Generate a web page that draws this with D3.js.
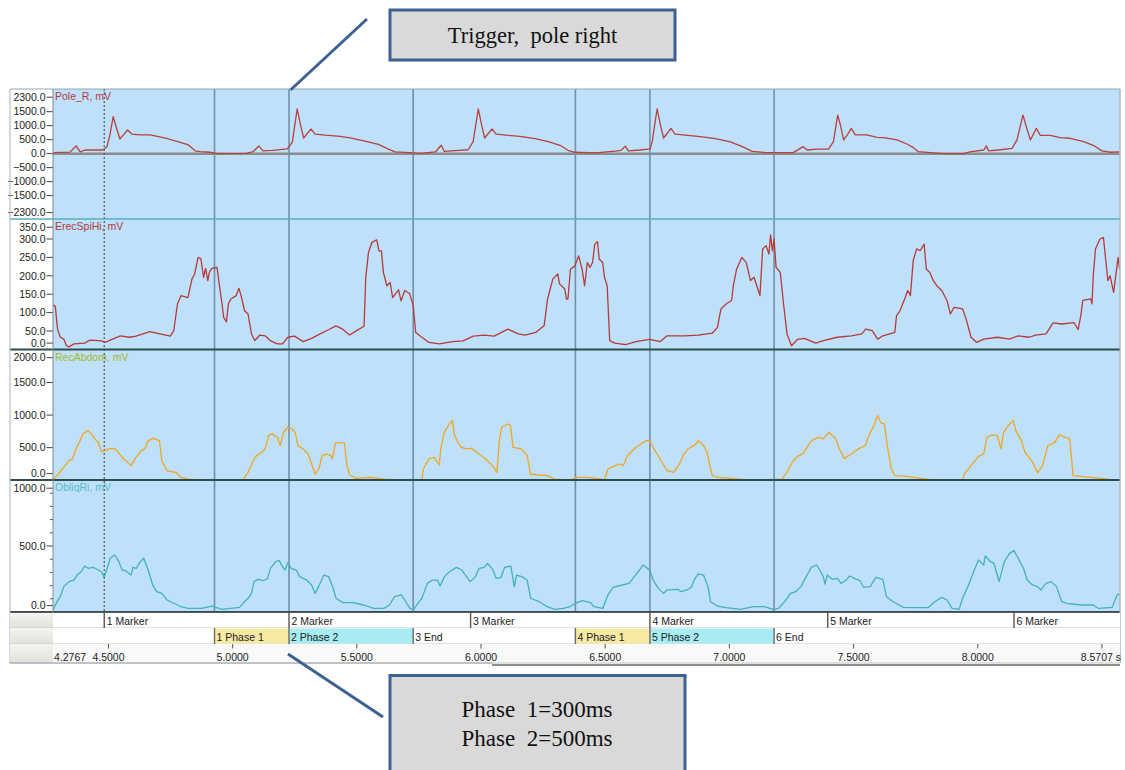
<!DOCTYPE html>
<html>
<head>
<meta charset="utf-8">
<script src="https://cdn.jsdelivr.net/npm/d3@7"></script>
<style>
  body { margin: 0; background: #fff; }
  svg text { font-family: "Liberation Sans", Arial, sans-serif; }
  .serif { font-family: "Liberation Serif", "Times New Roman", serif; }
</style>
</head>
<body>
<svg id="chart" width="1125" height="770"></svg>
<script>
// ---- Recording window (seconds) ----
const tStart = 4.2767;
const tEnd = 8.5707;

// ---- Channel names ----
const channelNames = ["Pole_R, mV", "ErecSpiHi, mV", "RecAbdom, mV", "ObliqRi, mV"];

// ---- Y tick labels per channel ----
const poleTicks = [2300, 1500, 1000, 500, 0, -500, -1000, -1500, -2300];
const erecTicks = [350, 300, 250, 200, 150, 100, 50, 0];
const recTicks = [2000, 1500, 1000, 500, 0];
const obliqTicks = [1000, 500, 0];
const obliqMinorTicks = [100, 200, 300, 400, 600, 700, 800, 900];

// ---- Time axis ----
const timeTicks = [4.5, 5.0, 5.5, 6.0, 6.5, 7.0, 7.5, 8.0, 8.5];
const timeTickLabels = ["4.5000", "5.0000", "5.5000", "6.0000", "6.5000", "7.0000", "7.5000", "8.0000", ""];
const timeStartLabel = "4.2767";
const timeEndLabel = "8.5707 s";

// ---- Event rows ----
const cursorTime = 4.483;
const markerTimes = [4.483, 5.227, 5.958, 6.680, 7.396, 8.146];
const markerLabels = ["1 Marker", "2 Marker", "3 Marker", "4 Marker", "5 Marker", "6 Marker"];
const phaseTimes = [4.927, 5.227, 5.727, 6.380, 6.680, 7.180];
const phaseLabels = ["1 Phase 1", "2 Phase 2", "3 End", "4 Phase 1", "5 Phase 2", "6 End"];
const phaseKinds = ["p1", "p2", "end", "p1", "p2", "end"];

// ---- Signals: [time s, value mV] ----
const poleR = [
[4.277,40],[4.305,45],[4.345,55],[4.370,275],[4.386,60],[4.406,130],[4.466,130],[4.478,130],[4.494,250],[4.506,670],
[4.519,1320],[4.533,900],[4.546,525],[4.562,690],[4.577,845],[4.594,700],[4.627,670],[4.667,670],[4.707,600],[4.734,550],
[4.789,405],[4.822,310],[4.849,100],[4.869,70],[4.909,50],[4.937,0],[5.058,10],[5.082,70],[5.106,275],[5.122,100],
[5.162,120],[5.220,170],[5.240,400],[5.260,1600],[5.274,1000],[5.286,560],[5.300,720],[5.316,880],[5.332,700],[5.372,660],
[5.433,620],[5.473,560],[5.533,450],[5.587,330],[5.627,160],[5.654,60],[5.714,40],[5.754,10],[5.816,60],[5.840,300],
[5.852,80],[5.896,110],[5.948,140],[5.968,420],[5.989,1600],[6.003,1000],[6.015,560],[6.029,720],[6.045,880],[6.061,700],
[6.101,660],[6.157,620],[6.218,540],[6.271,430],[6.318,300],[6.350,120],[6.378,50],[6.460,30],[6.540,90],[6.564,120],
[6.581,270],[6.593,100],[6.641,130],[6.681,170],[6.689,420],[6.709,1600],[6.723,1000],[6.735,560],[6.749,720],[6.765,900],
[6.781,700],[6.823,660],[6.883,610],[6.943,540],[7.004,420],[7.052,250],[7.092,80],[7.144,40],[7.185,35],[7.257,35],
[7.297,250],[7.313,130],[7.353,160],[7.399,160],[7.419,430],[7.436,1380],[7.447,1025],[7.460,490],[7.476,690],[7.491,905],
[7.507,670],[7.553,670],[7.595,585],[7.621,570],[7.675,490],[7.715,345],[7.741,215],[7.761,70],[7.809,35],[7.862,0],
[7.942,0],[7.969,60],[8.024,130],[8.035,275],[8.043,100],[8.083,130],[8.138,190],[8.158,490],[8.182,1380],[8.196,950],
[8.212,490],[8.236,905],[8.252,650],[8.292,650],[8.332,570],[8.372,550],[8.427,430],[8.467,290],[8.500,100],[8.533,50],
[8.571,60]
];

const erecSpiHi = [
[4.277,121],[4.286,117],[4.295,55],[4.306,33],[4.320,28],[4.331,10],[4.341,7],[4.361,15],[4.404,17],[4.424,25],
[4.472,23],[4.486,19],[4.514,27],[4.548,37],[4.584,33],[4.611,36],[4.667,48],[4.707,42],[4.749,36],[4.763,51],
[4.778,124],[4.792,146],[4.820,141],[4.826,160],[4.836,191],[4.847,205],[4.861,250],[4.872,247],[4.883,196],[4.891,220],
[4.900,187],[4.906,209],[4.916,220],[4.937,223],[4.946,178],[4.957,124],[4.964,87],[4.975,75],[4.983,124],[4.993,137],
[5.014,146],[5.025,166],[5.034,146],[5.048,105],[5.062,96],[5.076,42],[5.089,24],[5.110,39],[5.131,37],[5.151,24],
[5.180,15],[5.201,15],[5.222,33],[5.249,36],[5.284,21],[5.318,30],[5.352,42],[5.388,54],[5.416,64],[5.443,55],
[5.471,39],[5.499,51],[5.529,63],[5.536,196],[5.547,264],[5.561,291],[5.580,298],[5.589,268],[5.599,268],[5.607,209],
[5.621,173],[5.634,182],[5.644,141],[5.668,162],[5.678,132],[5.693,160],[5.713,151],[5.727,119],[5.737,46],[5.754,37],
[5.790,19],[5.832,15],[5.886,21],[5.928,23],[5.969,36],[6.012,39],[6.053,36],[6.108,55],[6.150,42],[6.177,39],
[6.220,46],[6.254,64],[6.268,137],[6.289,191],[6.309,205],[6.316,178],[6.337,164],[6.344,137],[6.350,137],[6.360,218],
[6.378,227],[6.393,254],[6.407,218],[6.417,173],[6.428,236],[6.439,223],[6.449,236],[6.458,286],[6.469,293],[6.476,245],
[6.490,236],[6.497,196],[6.508,173],[6.518,24],[6.539,17],[6.582,13],[6.624,21],[6.679,27],[6.721,21],[6.749,37],
[6.820,37],[6.875,39],[6.931,44],[6.952,60],[6.966,110],[6.988,124],[7.009,133],[7.016,173],[7.029,218],[7.050,250],
[7.068,236],[7.085,187],[7.099,196],[7.106,182],[7.123,146],[7.134,273],[7.148,282],[7.159,259],[7.166,311],[7.173,268],
[7.180,300],[7.188,223],[7.205,209],[7.218,124],[7.232,42],[7.250,10],[7.274,27],[7.302,30],[7.348,17],[7.378,24],
[7.435,33],[7.491,37],[7.533,42],[7.549,55],[7.575,51],[7.597,28],[7.618,37],[7.666,46],[7.673,92],[7.687,105],
[7.708,141],[7.718,160],[7.729,146],[7.740,241],[7.754,273],[7.768,268],[7.784,286],[7.793,218],[7.807,209],[7.821,187],
[7.835,173],[7.855,160],[7.876,133],[7.890,96],[7.904,114],[7.939,110],[7.953,83],[7.973,33],[7.996,19],[8.024,28],
[8.079,33],[8.128,28],[8.163,37],[8.206,33],[8.233,39],[8.275,42],[8.303,72],[8.338,69],[8.387,73],[8.404,54],
[8.415,92],[8.423,133],[8.455,137],[8.460,124],[8.465,200],[8.474,273],[8.492,300],[8.506,304],[8.515,245],[8.524,187],
[8.533,200],[8.547,155],[8.565,250],[8.571,218]
];

const recAbdom = [
[4.277,10],[4.299,95],[4.320,198],[4.341,300],[4.355,326],[4.369,480],[4.383,582],[4.397,711],[4.418,762],[4.431,711],
[4.445,634],[4.459,582],[4.472,439],[4.486,454],[4.507,490],[4.528,480],[4.555,352],[4.591,224],[4.611,352],[4.632,454],
[4.646,480],[4.660,608],[4.681,644],[4.705,608],[4.715,300],[4.735,147],[4.771,121],[4.792,44],[4.820,18],[4.861,8],
[4.929,3],[5.041,5],[5.062,121],[5.083,300],[5.096,377],[5.117,429],[5.131,480],[5.145,684],[5.158,711],[5.180,659],
[5.192,531],[5.205,736],[5.222,813],[5.236,797],[5.252,736],[5.263,531],[5.284,480],[5.304,403],[5.332,95],[5.348,182],
[5.360,377],[5.381,403],[5.395,377],[5.402,326],[5.413,572],[5.450,572],[5.460,224],[5.471,80],[5.499,29],[5.553,44],
[5.610,18],[5.651,8],[5.762,3],[5.768,172],[5.790,326],[5.811,352],[5.832,234],[5.838,480],[5.852,736],[5.873,864],
[5.884,916],[5.894,685],[5.907,582],[5.921,505],[5.942,480],[5.962,490],[5.991,403],[6.019,326],[6.046,224],[6.064,121],
[6.074,608],[6.083,813],[6.108,864],[6.119,839],[6.129,505],[6.163,480],[6.186,377],[6.199,95],[6.234,80],[6.268,70],
[6.296,18],[6.358,3],[6.387,44],[6.428,44],[6.480,20],[6.497,3],[6.511,172],[6.539,224],[6.560,249],[6.573,224],
[6.589,377],[6.624,505],[6.644,557],[6.665,608],[6.679,608],[6.693,505],[6.721,326],[6.749,147],[6.776,121],[6.799,249],
[6.813,377],[6.833,480],[6.861,541],[6.875,608],[6.896,531],[6.910,429],[6.931,70],[6.959,44],[7.002,29],[7.064,10],
[7.164,3],[7.212,18],[7.232,121],[7.253,275],[7.274,367],[7.295,403],[7.309,480],[7.330,608],[7.358,659],[7.378,634],
[7.401,736],[7.429,634],[7.443,480],[7.463,336],[7.491,403],[7.519,480],[7.547,531],[7.561,684],[7.582,839],[7.597,993],
[7.611,880],[7.624,864],[7.638,480],[7.652,172],[7.666,70],[7.715,60],[7.770,29],[7.813,8],[7.939,5],[7.946,95],
[7.973,224],[8.003,367],[8.024,403],[8.037,659],[8.058,695],[8.079,684],[8.093,480],[8.104,736],[8.121,828],[8.142,916],
[8.156,736],[8.176,608],[8.190,429],[8.220,285],[8.241,111],[8.261,224],[8.282,531],[8.310,582],[8.328,695],[8.352,659],
[8.370,634],[8.384,70],[8.415,60],[8.457,44],[8.499,29],[8.541,5],[8.571,3]
];

const obliqRi = [
[4.277,15],[4.279,28],[4.293,78],[4.306,116],[4.320,192],[4.341,230],[4.361,242],[4.374,280],[4.390,305],[4.404,348],
[4.418,331],[4.438,338],[4.459,318],[4.472,305],[4.482,263],[4.493,318],[4.507,407],[4.525,432],[4.542,381],[4.555,318],
[4.569,313],[4.591,280],[4.598,338],[4.612,331],[4.628,381],[4.642,407],[4.660,318],[4.678,205],[4.694,154],[4.715,141],
[4.736,91],[4.763,66],[4.792,40],[4.820,28],[4.875,28],[4.916,45],[4.944,28],[4.958,20],[5.028,35],[5.041,66],
[5.062,104],[5.076,141],[5.086,230],[5.103,247],[5.124,237],[5.141,255],[5.152,331],[5.174,381],[5.188,389],[5.197,356],
[5.211,318],[5.222,374],[5.236,331],[5.256,318],[5.270,268],[5.298,242],[5.318,205],[5.332,141],[5.346,192],[5.367,280],
[5.386,268],[5.403,192],[5.416,104],[5.444,71],[5.485,71],[5.527,53],[5.568,28],[5.610,28],[5.631,53],[5.652,116],
[5.679,129],[5.693,91],[5.714,28],[5.728,15],[5.741,53],[5.762,104],[5.784,217],[5.804,242],[5.825,242],[5.835,197],
[5.853,268],[5.873,305],[5.901,338],[5.922,318],[5.942,268],[5.956,230],[5.978,268],[5.992,331],[6.013,338],[6.026,369],
[6.047,323],[6.061,255],[6.081,263],[6.095,338],[6.120,348],[6.134,192],[6.143,280],[6.164,268],[6.186,242],[6.200,104],
[6.234,78],[6.262,45],[6.296,20],[6.331,28],[6.358,40],[6.379,66],[6.408,86],[6.441,71],[6.455,40],[6.490,28],
[6.511,129],[6.532,187],[6.553,197],[6.596,217],[6.617,268],[6.638,318],[6.652,356],[6.665,338],[6.679,318],[6.693,242],
[6.714,179],[6.735,141],[6.749,167],[6.792,172],[6.806,154],[6.834,172],[6.847,187],[6.859,247],[6.875,288],[6.896,280],
[6.914,192],[6.924,78],[6.952,45],[6.988,33],[7.043,20],[7.099,40],[7.141,40],[7.175,20],[7.198,28],[7.226,86],
[7.246,141],[7.267,154],[7.288,192],[7.309,268],[7.330,338],[7.351,356],[7.364,318],[7.378,268],[7.385,212],[7.394,280],
[7.415,247],[7.435,255],[7.449,217],[7.470,242],[7.484,273],[7.512,247],[7.526,237],[7.540,187],[7.567,192],[7.590,263],
[7.618,247],[7.632,116],[7.659,78],[7.701,35],[7.743,33],[7.800,33],[7.827,78],[7.855,111],[7.876,91],[7.897,28],
[7.925,20],[7.939,104],[7.960,192],[7.981,293],[8.003,394],[8.024,356],[8.030,424],[8.052,381],[8.065,369],[8.086,230],
[8.107,381],[8.128,444],[8.146,465],[8.163,407],[8.184,331],[8.199,242],[8.220,205],[8.241,192],[8.254,167],[8.275,217],
[8.296,230],[8.317,192],[8.338,78],[8.359,66],[8.415,53],[8.464,53],[8.485,28],[8.541,35],[8.561,129],[8.571,136]
];

// ---------------------------------------------------------------
const svg = d3.select("#chart");
const plotLeft = 53, plotRight = 1119.5, frameLeft = 10, frameRight = 1120;

const x = d3.scaleLinear().domain([tStart, tEnd]).range([plotLeft, plotRight]);

const panels = [
  { name: channelNames[0], data: poleR, domain: [-2300, 2300], range: [218, 89.3], top: 89, bottom: 219,
    ticks: poleTicks, minor: [], stroke: "#b8413a", label: "#b53b3b" },
  { name: channelNames[1], data: erecSpiHi, domain: [0, 350], range: [349.4, 220.6], top: 219, bottom: 349.5,
    ticks: erecTicks, minor: [], stroke: "#b73a36", label: "#b53b3b" },
  { name: channelNames[2], data: recAbdom, domain: [0, 2000], range: [480.2, 350], top: 349.5, bottom: 480,
    ticks: recTicks, minor: [], stroke: "#f2a623", label: "#a9b92a" },
  { name: channelNames[3], data: obliqRi, domain: [0, 1000], range: [612, 480], top: 480, bottom: 612,
    ticks: obliqTicks, minor: obliqMinorTicks, stroke: "#41b4b3", label: "#58bdbd" }
];

const defs = svg.append("defs");
const hdrGrad = defs.append("linearGradient").attr("id", "hdr").attr("x1", 0).attr("y1", 0).attr("x2", 0).attr("y2", 1);
hdrGrad.append("stop").attr("offset", "0%").attr("stop-color", "#f5f4f0");
hdrGrad.append("stop").attr("offset", "100%").attr("stop-color", "#e2e0da");

// Axis column and plot background
svg.append("rect").attr("x", frameLeft).attr("y", 89).attr("width", plotLeft - frameLeft).attr("height", 612 - 89)
  .attr("fill", "#ffffff");
svg.append("rect").attr("x", plotLeft).attr("y", 89).attr("width", plotRight - plotLeft).attr("height", 612 - 89)
  .attr("fill", "#bee0fa");

// Zero line of the pole channel
svg.append("line").attr("x1", plotLeft).attr("x2", plotRight)
  .attr("y1", d3.scaleLinear().domain(panels[0].domain).range(panels[0].range)(0))
  .attr("y2", d3.scaleLinear().domain(panels[0].domain).range(panels[0].range)(0))
  .attr("stroke", "#8c8c8c").attr("stroke-width", 2.5);

// Event lines through all channels
svg.append("g").selectAll("line").data(phaseTimes).join("line")
  .attr("x1", d => x(d)).attr("x2", d => x(d)).attr("y1", 89).attr("y2", 612)
  .attr("stroke", "#7190a8").attr("stroke-width", 1.6);
svg.append("line").attr("x1", x(cursorTime)).attr("x2", x(cursorTime)).attr("y1", 89).attr("y2", 612)
  .attr("stroke", "#555").attr("stroke-width", 1.2).attr("stroke-dasharray", "2,2");

// Channels
panels.forEach((p, i) => {
  const y = d3.scaleLinear().domain(p.domain).range(p.range);
  const clipId = "clip" + i;
  defs.append("clipPath").attr("id", clipId).append("rect")
    .attr("x", plotLeft).attr("y", p.top).attr("width", plotRight - plotLeft).attr("height", p.bottom - p.top);

  const line = d3.line().x(d => x(d[0])).y(d => y(d[1]));
  svg.append("path").datum(p.data).attr("d", line).attr("clip-path", `url(#${clipId})`)
    .attr("fill", "none").attr("stroke", p.stroke).attr("stroke-width", 1.3).attr("stroke-linejoin", "round");

  svg.append("text").attr("x", plotLeft + 2).attr("y", p.top + 11).text(p.name)
    .attr("font-size", 10.5).attr("fill", p.label);

  const tickY = v => Math.max(p.top + 8.2, Math.min(p.bottom - 6.4, y(v)));
  const g = svg.append("g");
  g.selectAll("line.major").data(p.ticks).join("line").attr("class", "major")
    .attr("x1", 46.5).attr("x2", plotLeft).attr("y1", d => tickY(d)).attr("y2", d => tickY(d))
    .attr("stroke", "#444").attr("stroke-width", 1);
  g.selectAll("line.minor").data(p.minor).join("line").attr("class", "minor")
    .attr("x1", 50).attr("x2", plotLeft).attr("y1", d => y(d)).attr("y2", d => y(d))
    .attr("stroke", "#555").attr("stroke-width", 1);
  g.selectAll("text").data(p.ticks).join("text")
    .attr("x", 45.5).attr("y", d => tickY(d)).attr("dy", "0.36em").attr("text-anchor", "end")
    .attr("font-size", 10.5).attr("fill", "#222").text(d => d3.format(".1f")(d));
});

// Frame and channel separators
svg.append("line").attr("x1", frameLeft).attr("x2", frameRight).attr("y1", 89).attr("y2", 89)
  .attr("stroke", "#93a7b6").attr("stroke-width", 1.2);
svg.append("line").attr("x1", frameLeft).attr("x2", frameRight).attr("y1", 219).attr("y2", 219)
  .attr("stroke", "#56afbd").attr("stroke-width", 1.6);
[349.5, 480].forEach(yy => svg.append("line").attr("x1", frameLeft).attr("x2", frameRight)
  .attr("y1", yy).attr("y2", yy).attr("stroke", "#2d4d4d").attr("stroke-width", 1.8));
svg.append("line").attr("x1", frameLeft).attr("x2", frameRight).attr("y1", 612).attr("y2", 612)
  .attr("stroke", "#3e4a4e").attr("stroke-width", 1.8);
svg.append("line").attr("x1", plotLeft).attr("x2", plotLeft).attr("y1", 89).attr("y2", 663)
  .attr("stroke", "#7b8b98").attr("stroke-width", 1);
svg.append("line").attr("x1", frameLeft).attr("x2", frameLeft).attr("y1", 89).attr("y2", 663)
  .attr("stroke", "#a5b4c0").attr("stroke-width", 1);
svg.append("line").attr("x1", frameRight).attr("x2", frameRight).attr("y1", 89).attr("y2", 663)
  .attr("stroke", "#93a7b6").attr("stroke-width", 1.2);

// Event rows and time axis
const rows = [
  { top: 612.9, bottom: 628, fill: "#ffffff" },
  { top: 628, bottom: 644, fill: "#ffffff" },
  { top: 644, bottom: 663, fill: "#f9f9f9" }
];
rows.forEach(r => {
  svg.append("rect").attr("x", frameLeft).attr("y", r.top).attr("width", plotLeft - frameLeft).attr("height", r.bottom - r.top)
    .attr("fill", "url(#hdr)");
  svg.append("rect").attr("x", plotLeft).attr("y", r.top).attr("width", frameRight - plotLeft).attr("height", r.bottom - r.top)
    .attr("fill", r.fill);
  svg.append("line").attr("x1", frameLeft).attr("x2", frameRight).attr("y1", r.bottom).attr("y2", r.bottom)
    .attr("stroke", "#c4c4c4").attr("stroke-width", 1);
});

// Phase cells
const phaseFill = { p1: "#f6eaa2", p2: "#a7ebf3", end: "none" };
const phaseCells = phaseTimes.map((t, i) => ({ t0: t, t1: i < phaseTimes.length - 1 ? phaseTimes[i + 1] : tEnd,
  label: phaseLabels[i], kind: phaseKinds[i] }));
svg.append("g").selectAll("rect").data(phaseCells.filter(c => c.kind !== "end")).join("rect")
  .attr("x", d => x(d.t0)).attr("y", 628.5).attr("width", d => x(d.t1) - x(d.t0)).attr("height", 15)
  .attr("fill", d => phaseFill[d.kind]);
svg.append("g").selectAll("line").data(phaseTimes).join("line")
  .attr("x1", d => x(d)).attr("x2", d => x(d)).attr("y1", 628).attr("y2", 644)
  .attr("stroke", "#6a6a6a").attr("stroke-width", 1.4);
svg.append("g").selectAll("text").data(phaseCells).join("text")
  .attr("x", d => x(d.t0) + 2).attr("y", 640.5).attr("font-size", 10.5).attr("fill", "#222").text(d => d.label);

// Markers
svg.append("g").selectAll("line").data(markerTimes).join("line")
  .attr("x1", d => x(d)).attr("x2", d => x(d)).attr("y1", 612.5).attr("y2", 628)
  .attr("stroke", "#555").attr("stroke-width", 1.4);
svg.append("g").selectAll("text").data(markerTimes).join("text")
  .attr("x", d => x(d) + 2.5).attr("y", 624.5).attr("font-size", 10.5).attr("fill", "#222")
  .text((d, i) => markerLabels[i]);

// Time axis
svg.append("g").selectAll("line").data(timeTicks).join("line")
  .attr("x1", d => x(d)).attr("x2", d => x(d)).attr("y1", 644).attr("y2", 648.5)
  .attr("stroke", "#555").attr("stroke-width", 1);
svg.append("g").selectAll("text").data(timeTicks).join("text")
  .attr("x", d => x(d)).attr("y", 661).attr("text-anchor", "middle").attr("font-size", 10.5).attr("fill", "#222")
  .text((d, i) => timeTickLabels[i]);
svg.append("text").attr("x", plotLeft + 1).attr("y", 661).attr("font-size", 10.5).attr("fill", "#222").text(timeStartLabel);
svg.append("text").attr("x", frameRight + 1).attr("y", 661).attr("text-anchor", "end").attr("font-size", 10.5)
  .attr("fill", "#222").text(timeEndLabel);

// Scroll bar edge under the time axis
svg.append("line").attr("x1", frameLeft).attr("x2", 492).attr("y1", 663).attr("y2", 663).attr("stroke", "#a0a4a8");
svg.append("line").attr("x1", 492).attr("x2", frameRight).attr("y1", 665).attr("y2", 665)
  .attr("stroke", "#8c8f92").attr("stroke-width", 2);

// Callouts
const calloutStroke = "#3d6190";
svg.append("line").attr("x1", 290.5).attr("y1", 90).attr("x2", 367).attr("y2", 19)
  .attr("stroke", calloutStroke).attr("stroke-width", 3);
svg.append("rect").attr("x", 390).attr("y", 10).attr("width", 285).attr("height", 50)
  .attr("fill", "#d9d9d9").attr("stroke", calloutStroke).attr("stroke-width", 3);
svg.append("text").attr("class", "serif").attr("x", 532.5).attr("y", 43).attr("text-anchor", "middle")
  .attr("font-size", 22.5).attr("fill", "#111").style("white-space", "pre").text("Trigger,  pole right");

svg.append("line").attr("x1", 288).attr("y1", 654).attr("x2", 383).attr("y2", 717)
  .attr("stroke", calloutStroke).attr("stroke-width", 3);
svg.append("rect").attr("x", 390).attr("y", 675.5).attr("width", 295).attr("height", 110)
  .attr("fill", "#d9d9d9").attr("stroke", calloutStroke).attr("stroke-width", 3);
svg.append("text").attr("class", "serif").attr("x", 537).attr("y", 717).attr("text-anchor", "middle")
  .attr("font-size", 23).attr("fill", "#111").style("white-space", "pre").text("Phase  1=300ms");
svg.append("text").attr("class", "serif").attr("x", 537).attr("y", 746).attr("text-anchor", "middle")
  .attr("font-size", 23).attr("fill", "#111").style("white-space", "pre").text("Phase  2=500ms");
</script>
</body>
</html>
